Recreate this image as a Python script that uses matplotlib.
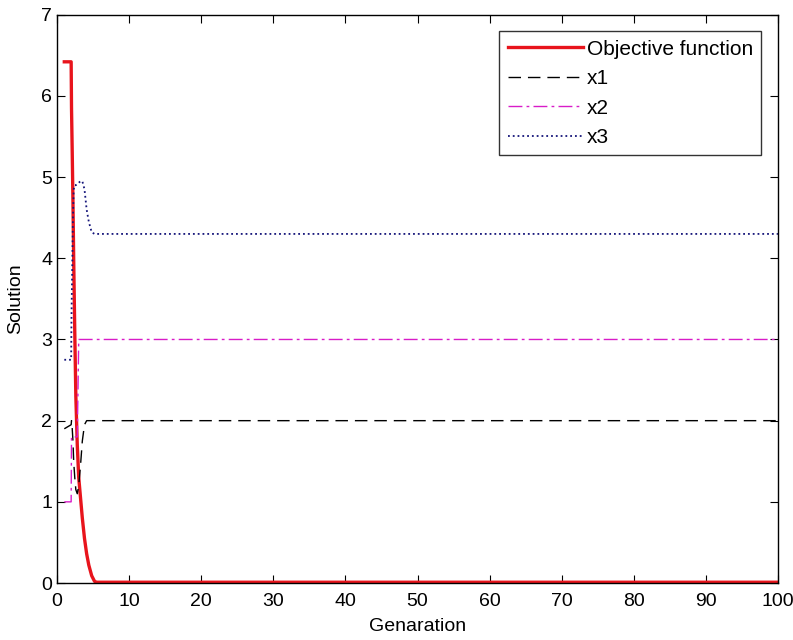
import matplotlib.pyplot as plt
import numpy as np

plt.rcParams['font.family'] = ['Liberation Sans', 'DejaVu Sans']

# generation axis: fine steps early on, then whole generations
gen = [1, 1.95, 2.0, 2.1, 2.2, 2.3, 2.45, 2.6, 2.8, 3.0, 3.25, 3.5, 3.8, 4.1, 4.4, 4.8, 5.2, 5.5] + list(range(6, 101))
n_tail = len(range(6, 101))

objective = [6.42, 6.42, 5.85, 5.3, 4.7, 4.0, 3.1, 2.3, 1.7, 1.3, 1.05, 0.8, 0.55, 0.36, 0.22, 0.09, 0.02, 0.01] + [0.01] * n_tail
x1 = [1.9, 1.95, 2.0, 1.9, 1.75, 1.5, 1.3, 1.15, 1.1, 1.2, 1.45, 1.75, 1.95, 2.0, 2.0, 2.0, 2.0, 2.0] + [2.0] * n_tail
x2 = [1.0, 1.0, 1.8, 1.8, 1.8, 1.8, 1.8, 1.8, 1.8, 3.0, 3.0, 3.0, 3.0, 3.0, 3.0, 3.0, 3.0, 3.0] + [3.0] * n_tail
x3 = [2.75, 2.75, 3.3, 3.9, 4.5, 4.85, 4.9, 4.9, 4.92, 4.93, 4.95, 4.95, 4.85, 4.6, 4.45, 4.32, 4.3, 4.3] + [4.3] * n_tail

fig = plt.figure(figsize=(7.93, 6.4), dpi=100)
ax = fig.add_axes([0.072, 0.089, 0.909, 0.888])

ax.plot(gen, objective, color='#e8141c', linewidth=2.4, label='Objective function')
ax.plot(gen, x1, color='black', linewidth=1, dashes=(9, 5), label='x1')
ax.plot(gen, x2, color='#d81cc8', linewidth=1, dashes=(10, 3, 2, 3), label='x2')
ax.plot(gen, x3, color='#15157a', linewidth=1.3, linestyle=':', label='x3')

ax.set_xlim(0, 100)
ax.set_ylim(0, 7)
ax.set_xticks(np.arange(0, 101, 10))
ax.set_yticks(np.arange(0, 8, 1))
ax.tick_params(direction='in', top=True, right=True, labelsize=14, length=6)
ax.tick_params(axis='x', pad=7)
for s in ax.spines.values():
    s.set_linewidth(1)
ax.set_xlabel('Genaration', fontsize=14, labelpad=6)
ax.set_ylabel('Solution', fontsize=14, labelpad=12)

lgd = ax.legend(loc='upper right', fontsize=15, frameon=True, fancybox=False,
                edgecolor='black', handlelength=3.6, borderaxespad=0.8,
                labelspacing=0.5, handletextpad=0.2, borderpad=0.4)
lgd.get_frame().set_linewidth(1)

plt.savefig('out.png', dpi=100)
